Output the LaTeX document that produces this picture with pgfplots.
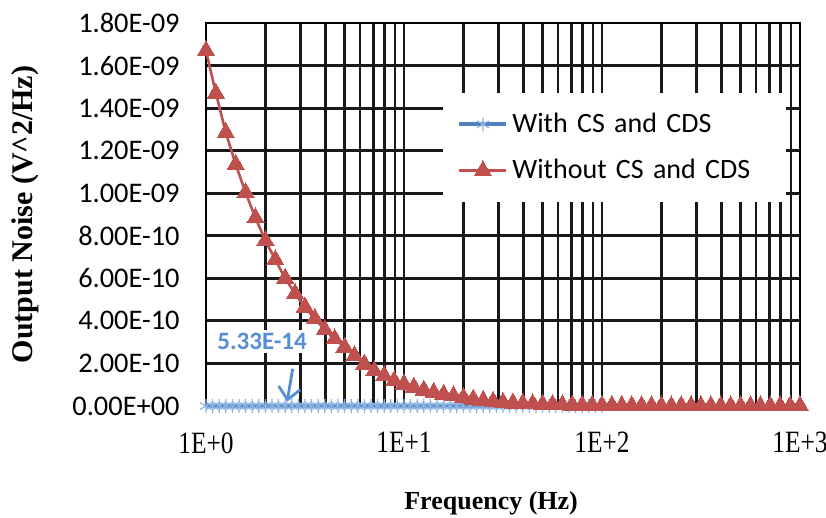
\documentclass[border=0pt]{standalone}
\usepackage{graphicx}
\usepackage{pgfplots}
\pgfplotsset{compat=1.18}
\usepackage{pgfplotstable}
\usepackage{fontspec}
\setmainfont{Liberation Serif}
\newfontfamily\calibri{Carlito}
\usetikzlibrary{arrows.meta}

\definecolor{xlred}{HTML}{C0504D}
\definecolor{xlblue}{HTML}{4F81BD}
\definecolor{xlstar}{HTML}{8DB4E2}
\definecolor{annblue}{HTML}{558ED5}
\newcommand{\narrow}[1]{\scalebox{0.82}[1]{#1}}

% noise spectrum, v in units of 1e-9 V^2/Hz
\pgfplotstableread{
f v
1 1.67
1.122 1.47
1.259 1.285
1.413 1.135
1.585 1.003
1.778 0.884
1.995 0.778
2.239 0.687
2.512 0.600
2.818 0.528
3.162 0.465
3.548 0.410
3.981 0.358
4.467 0.315
5.012 0.276
5.623 0.236
6.310 0.197
7.079 0.165
7.943 0.142
8.913 0.118
10 0.103
11.22 0.088
12.59 0.075
14.13 0.064
15.85 0.055
17.78 0.047
19.95 0.039
22.39 0.032
25.12 0.026
28.18 0.021
31.62 0.017
35.48 0.014
39.81 0.0115
44.67 0.0095
50.12 0.008
56.23 0.0065
63.10 0.0055
70.79 0.0045
79.43 0.0037
89.13 0.003
100 0.0025
112.2 0.0021
125.9 0.0018
141.3 0.0015
158.5 0.0013
177.8 0.0011
199.5 0.001
223.9 0.0009
251.2 0.0008
281.8 0.0007
316.2 0.0006
354.8 0.0005
398.1 0.00045
446.7 0.0004
501.2 0.00035
562.3 0.0003
631.0 0.00027
707.9 0.00024
794.3 0.00021
891.3 0.00019
1000 0.00017
}\withoutcs

\pgfplotstableread{
f v
1 0.0000533
1.0798 0.0000533
1.1659 0.0000533
1.2589 0.0000533
1.3594 0.0000533
1.4678 0.0000533
1.5849 0.0000533
1.7113 0.0000533
1.8478 0.0000533
1.9953 0.0000533
2.1544 0.0000533
2.3263 0.0000533
2.5119 0.0000533
2.7123 0.0000533
2.9286 0.0000533
3.1623 0.0000533
3.4145 0.0000533
3.6869 0.0000533
3.9811 0.0000533
4.2987 0.0000533
4.6416 0.0000533
5.0119 0.0000533
5.4117 0.0000533
5.8434 0.0000533
6.3096 0.0000533
6.8129 0.0000533
7.3564 0.0000533
7.9433 0.0000533
8.5770 0.0000533
9.2612 0.0000533
10 0.0000533
10.798 0.0000533
11.659 0.0000533
12.589 0.0000533
13.594 0.0000533
14.678 0.0000533
15.849 0.0000533
17.113 0.0000533
18.478 0.0000533
19.953 0.0000533
21.544 0.0000533
23.263 0.0000533
25.119 0.0000533
27.123 0.0000533
29.286 0.0000533
31.623 0.0000533
34.145 0.0000533
36.869 0.0000533
39.811 0.0000533
42.987 0.0000533
46.416 0.0000533
50.119 0.0000533
54.117 0.0000533
58.434 0.0000533
63.096 0.0000533
68.129 0.0000533
73.564 0.0000533
79.433 0.0000533
85.770 0.0000533
92.612 0.0000533
100 0.0000533
}\withcs

\begin{document}
\begin{tikzpicture}
\begin{axis}[
  name=ax,
  scale only axis,
  width=297pt, height=191.5pt,
  xmode=log,
  xmin=1, xmax=1000,
  ymin=0, ymax=1.8,
  clip=false,
  axis line style={black, line width=1.4pt},
  grid=both,
  major grid style={black!90, line width=1.4pt},
  minor grid style={black!90, line width=1.4pt},
  major tick length=0pt, minor tick length=0pt,
  xtick={1,10,100,1000},
  xticklabels={\narrow{1E+0},\narrow{1E+1},\narrow{1E+2},\narrow{1E+3}},
  xticklabel style={font=\fontsize{15.5}{17}\selectfont, anchor=north, inner sep=0pt, yshift=-13pt},
  ytick={0,0.2,0.4,0.6,0.8,1.0,1.2,1.4,1.6,1.8},
  yticklabels={0.00E+00,2.00E-10,4.00E-10,6.00E-10,8.00E-10,1.00E-09,1.20E-09,1.40E-09,1.60E-09,1.80E-09},
  yticklabel style={font=\calibri\fontsize{14.2}{17}\selectfont, anchor=east, inner sep=0pt, xshift=-13pt},
  xlabel={\textbf{Frequency (Hz)}},
  xlabel style={font=\fontsize{13}{15}\selectfont, at={(axis description cs:0.48,0)}, anchor=north, yshift=-39pt},
  ylabel={\textbf{Output Noise (V\textasciicircum 2/Hz)}},
  ylabel style={font=\fontsize{15}{17}\selectfont, at={(axis description cs:-0.305,0.5)}, anchor=center, rotate=0},
  legend style={at={(0.399,0.818)}, anchor=north west, fill=white, draw=none,
    font=\calibri\fontsize{14}{16}\selectfont, inner xsep=7pt, inner ysep=8pt,
    row sep=8pt, cells={anchor=west, text width=128pt}},
  legend image code/.code={\draw[mark repeat=2,mark phase=2] plot coordinates {(0pt,0pt) (11.75pt,0pt) (23.5pt,0pt)};},
]
\addplot[xlblue, line width=2pt, mark=asterisk, mark size=3.5pt,
  mark options={xlstar, line width=0.6pt}] table[x=f, y=v] {\withcs};
\addlegendentry{With CS and CDS}
\addplot[xlred, line width=1.3pt, mark=triangle*, mark size=5pt,
  mark options={xlred, line width=0pt}] table[x=f, y=v] {\withoutcs};
\addlegendentry{Without CS and CDS}
\node[font=\calibri\bfseries\fontsize{12.5}{15}\selectfont, text=annblue, fill=white, inner sep=1.5pt]
  at (axis cs:1.92,0.303) {5.33E-14};
\draw[annblue, line width=1.4pt, -{Straight Barb[length=6pt,width=11pt]}]
  (axis cs:2.74,0.175) -- (axis cs:2.57,0.02);
\end{axis}
\pgfresetboundingbox
\path[use as bounding box] ([xshift=-103pt,yshift=-56pt]ax.south west) rectangle ([xshift=13pt,yshift=11.5pt]ax.north east);
\end{tikzpicture}
\end{document}
